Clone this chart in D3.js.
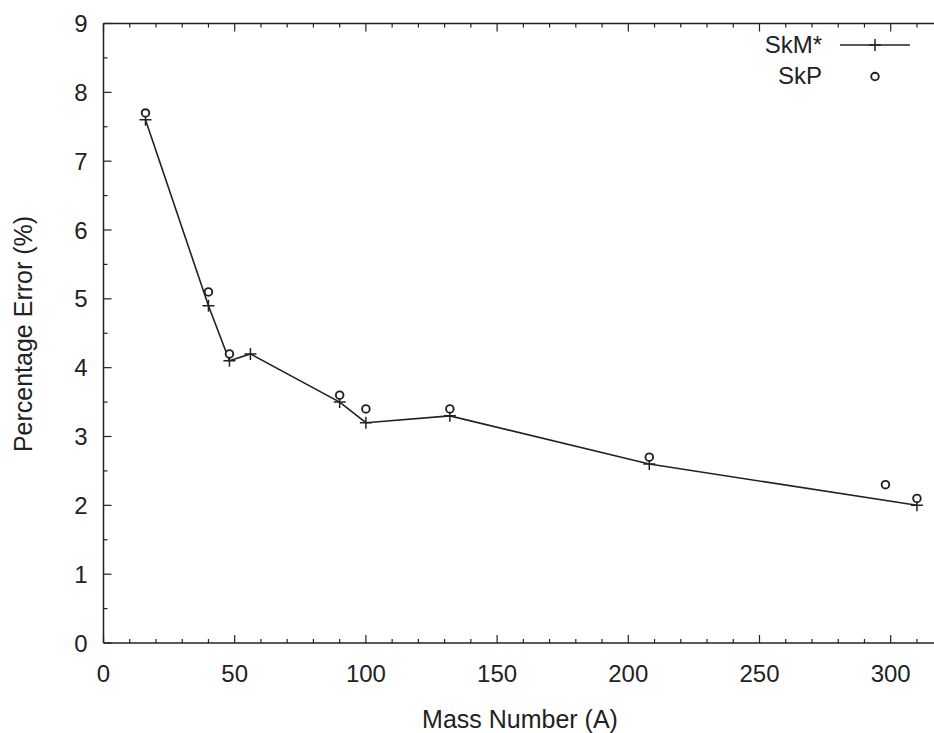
<!DOCTYPE html>
<html>
<head>
<meta charset="utf-8">
<script src="https://cdn.jsdelivr.net/npm/d3@7"></script>
<style>
  body { margin: 0; background: #fff; }
  svg { display: block; }
  text { font-family: "Liberation Sans", Arial, sans-serif; fill: #222; }
</style>
</head>
<body>
<svg id="chart" width="934" height="733"></svg>
<script>
// ---- data ----
const skmA = [16, 40, 48, 56, 90, 100, 132, 208, 310];
const skmErr = [7.6, 4.9, 4.1, 4.2, 3.5, 3.2, 3.3, 2.6, 2.0];
const skpA = [16, 40, 48, 90, 100, 132, 208, 298, 310];
const skpErr = [7.7, 5.1, 4.2, 3.6, 3.4, 3.4, 2.7, 2.3, 2.1];
const xTicks = [0, 50, 100, 150, 200, 250, 300];
const yTicks = [0, 1, 2, 3, 4, 5, 6, 7, 8, 9];
const seriesNames = ["SkM*", "SkP"];
const xTitle = "Mass Number (A)";
const yTitle = "Percentage Error (%)";

// ---- layout ----
const svg = d3.select("#chart");
const pLeft = 103.5, pTop = 23.5, pBottom = 643;
const x = d3.scaleLinear().domain([0, 320]).range([pLeft, pLeft + 320 * 2.624]);
const y = d3.scaleLinear().domain([0, 9]).range([pBottom, pTop]);
const fs = 24;
const ink = "#222";

// frame
const g = svg.append("g");
g.append("line").attr("x1", pLeft).attr("x2", 934).attr("y1", pBottom).attr("y2", pBottom).attr("stroke", ink).attr("stroke-width", 1.5);
g.append("line").attr("x1", pLeft).attr("x2", 934).attr("y1", pTop).attr("y2", pTop).attr("stroke", ink).attr("stroke-width", 1.5);
g.append("line").attr("x1", pLeft).attr("x2", pLeft).attr("y1", pTop).attr("y2", pBottom).attr("stroke", ink).attr("stroke-width", 1.5);

// x ticks (bottom + top, inward)
const xMinor = d3.range(0, 321, 10);
xMinor.forEach(v => {
  const major = v % 50 === 0;
  const len = major ? 8 : 4;
  g.append("line").attr("x1", x(v)).attr("x2", x(v)).attr("y1", pBottom).attr("y2", pBottom - len).attr("stroke", ink).attr("stroke-width", 1.2);
  g.append("line").attr("x1", x(v)).attr("x2", x(v)).attr("y1", pTop).attr("y2", pTop + len).attr("stroke", ink).attr("stroke-width", 1.2);
});
const yMinor = d3.range(0, 9.01, 0.5);
yMinor.forEach(v => {
  const major = Math.abs(v - Math.round(v)) < 1e-6;
  const len = major ? 8 : 4;
  g.append("line").attr("x1", pLeft).attr("x2", pLeft + len).attr("y1", y(v)).attr("y2", y(v)).attr("stroke", ink).attr("stroke-width", 1.2);
});

// tick labels
g.selectAll(".xl").data(xTicks).enter().append("text")
  .attr("x", d => x(d)).attr("y", pBottom + 39).attr("text-anchor", "middle")
  .attr("font-size", fs).text(d => d);
g.selectAll(".yl").data(yTicks).enter().append("text")
  .attr("x", pLeft - 16).attr("y", d => y(d) + 8.5).attr("text-anchor", "end")
  .attr("font-size", fs).text(d => d);

// titles
svg.append("text").attr("x", 520).attr("y", 728).attr("text-anchor", "middle").attr("font-size", 25).text(xTitle);
svg.append("text").attr("transform", "translate(32,334) rotate(-90)").attr("text-anchor", "middle").attr("font-size", 25).text(yTitle);

// SkM* line
const skm = skmA.map((a, i) => [a, skmErr[i]]);
const skp = skpA.map((a, i) => [a, skpErr[i]]);
const line = d3.line().x(d => x(d[0])).y(d => y(d[1]));
svg.append("path").datum(skm).attr("d", line).attr("fill", "none").attr("stroke", ink).attr("stroke-width", 1.6);

function cross(sel, cx, cy) {
  sel.append("path").attr("d", `M${cx-6},${cy}H${cx+6}M${cx},${cy-6}V${cy+6}`)
    .attr("stroke", ink).attr("stroke-width", 1.5).attr("fill", "none");
}
function circ(sel, cx, cy) {
  sel.append("circle").attr("cx", cx).attr("cy", cy).attr("r", 3.8)
    .attr("fill", "#fff").attr("stroke", ink).attr("stroke-width", 1.9);
}
skm.forEach(d => cross(svg, x(d[0]), y(d[1])));
skp.forEach(d => circ(svg, x(d[0]), y(d[1])));

// legend
svg.append("text").attr("x", 822).attr("y", 53).attr("text-anchor", "end").attr("font-size", fs).text(seriesNames[0]);
svg.append("text").attr("x", 822).attr("y", 84).attr("text-anchor", "end").attr("font-size", fs).text(seriesNames[1]);
svg.append("line").attr("x1", 840).attr("x2", 910).attr("y1", 45).attr("y2", 45).attr("stroke", ink).attr("stroke-width", 1.5);
cross(svg, 875, 45);
circ(svg, 875, 76.5);
</script>
</body>
</html>
